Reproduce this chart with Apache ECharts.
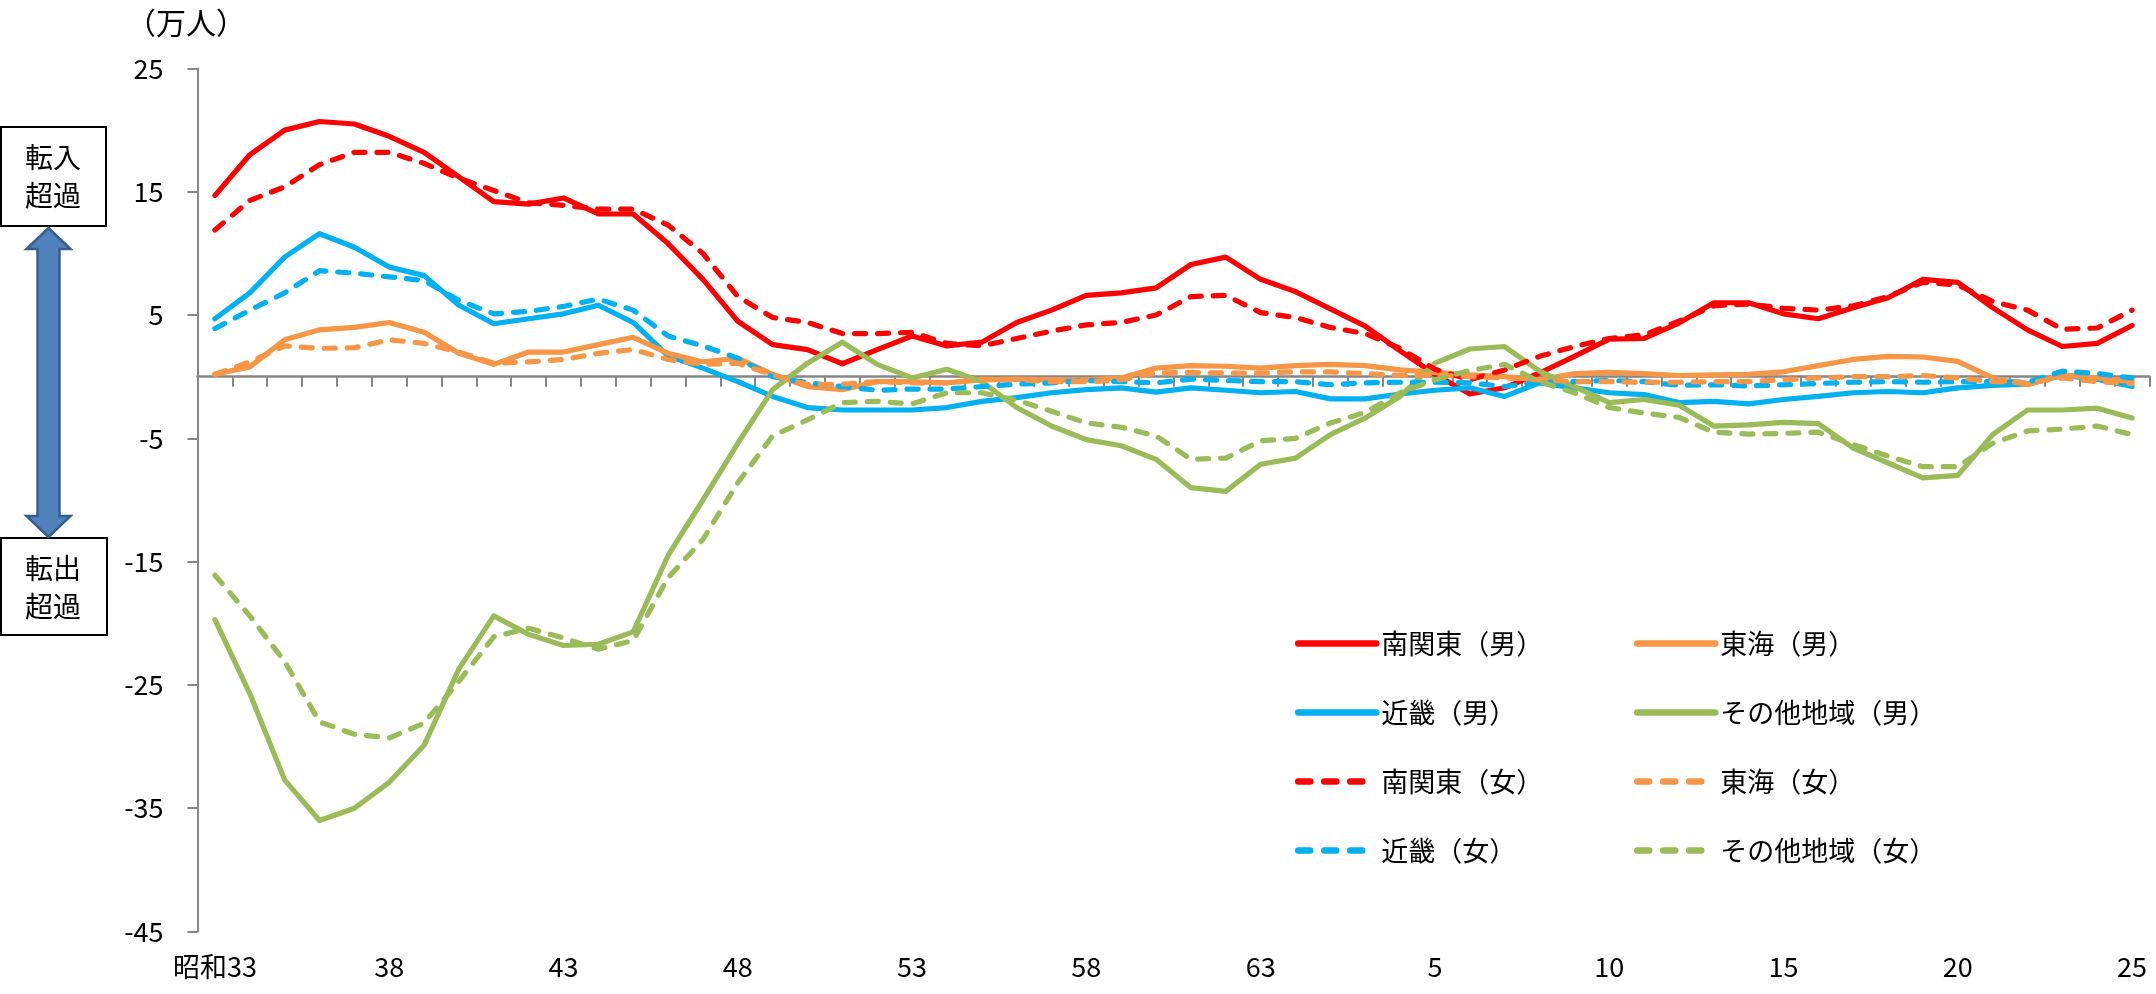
<!DOCTYPE html>
<html>
<head>
<meta charset="utf-8">
<script src="https://cdn.jsdelivr.net/npm/echarts@6/dist/echarts.min.js"></script>
<style>
html,body{margin:0;padding:0;background:#fff;}
#chart{width:2156px;height:994px;}
</style>
</head>
<body>
<div id="chart"></div>
<script>
// Categories: 昭和33 (1958) ... 昭和63, 平成元 ... 平成25 (2013)
var categories = ['昭和33','34','35','36','37','38','39','40','41','42','43','44','45','46','47','48','49','50','51','52','53','54','55','56','57','58','59','60','61','62','63','元','2','3','4','5','6','7','8','9','10','11','12','13','14','15','16','17','18','19','20','21','22','23','24','25'];

var yTicks = { min: -45, max: 25, interval: 10 };

var minamiKantoMale = [14.7,18.0,20.0,20.7,20.5,19.5,18.2,16.2,14.2,14.0,14.5,13.2,13.2,10.8,7.9,4.5,2.6,2.2,1.05,2.2,3.3,2.5,2.8,4.4,5.4,6.6,6.8,7.2,9.1,9.7,7.9,6.9,5.5,4.1,2.1,0.2,-1.4,-0.9,0.3,1.65,3.05,3.1,4.35,6.0,6.0,5.1,4.7,5.6,6.4,7.9,7.65,5.6,3.8,2.45,2.7,4.15];
var tokaiMale = [0.2,0.8,3.0,3.8,4.0,4.4,3.6,1.9,1.0,2.0,2.0,2.6,3.2,1.9,1.2,1.5,0.2,-0.8,-1.05,-0.4,-0.4,-0.5,-0.25,-0.2,-0.25,-0.25,-0.1,0.7,0.9,0.85,0.7,0.9,1.0,0.9,0.55,0.35,0.15,0.0,-0.25,0.25,0.35,0.25,0.1,0.15,0.2,0.4,0.9,1.4,1.65,1.6,1.25,-0.1,-0.65,0.15,-0.1,-0.4];
var kinkiMale = [4.7,6.8,9.7,11.6,10.5,8.9,8.2,5.8,4.3,4.7,5.1,5.8,4.4,1.7,0.7,-0.4,-1.6,-2.5,-2.7,-2.7,-2.7,-2.5,-2.0,-1.7,-1.3,-1.05,-0.9,-1.25,-0.9,-1.1,-1.3,-1.2,-1.8,-1.8,-1.4,-1.1,-0.9,-1.6,-0.5,-0.9,-1.3,-1.45,-2.1,-2.0,-2.2,-1.85,-1.6,-1.3,-1.2,-1.3,-0.9,-0.7,-0.6,0.1,-0.2,-0.8];
var otherMale = [-19.7,-25.7,-32.7,-36.0,-35.0,-32.9,-29.9,-23.7,-19.4,-20.9,-21.8,-21.7,-20.7,-14.5,-10.0,-5.4,-1.05,1.1,2.8,1.0,-0.1,0.6,-0.4,-2.5,-4.0,-5.1,-5.6,-6.7,-9.0,-9.3,-7.1,-6.6,-4.7,-3.35,-1.6,1.1,2.25,2.45,0.45,-0.8,-2.1,-1.85,-2.3,-4.0,-3.9,-3.7,-3.8,-5.8,-7.0,-8.2,-8.0,-4.7,-2.7,-2.7,-2.55,-3.35];
var minamiKantoFemale = [11.9,14.3,15.4,17.2,18.2,18.2,17.3,16.1,15.1,14.1,13.9,13.6,13.6,12.3,10.0,6.5,4.8,4.4,3.5,3.5,3.6,2.7,2.5,3.1,3.7,4.2,4.4,5.0,6.5,6.6,5.2,4.8,4.0,3.5,2.3,0.6,-0.25,0.55,1.65,2.45,3.1,3.4,4.5,5.75,5.9,5.55,5.4,5.75,6.5,7.65,7.45,6.1,5.4,3.85,3.95,5.4];
var tokaiFemale = [0.2,1.2,2.5,2.3,2.35,3.0,2.7,2.0,1.1,1.2,1.4,1.9,2.2,1.4,1.0,1.1,0.15,-0.65,-0.6,-0.4,-0.5,-0.5,-0.2,-0.25,-0.4,-0.4,-0.25,0.3,0.35,0.3,0.3,0.4,0.4,0.25,0.1,0.15,0.0,-0.1,-0.25,-0.4,-0.4,-0.45,-0.45,-0.4,-0.4,-0.25,-0.1,0.0,0.0,0.1,-0.1,-0.4,-0.5,-0.1,-0.4,-0.55];
var kinkiFemale = [3.9,5.4,6.8,8.6,8.4,8.1,7.8,6.2,5.1,5.3,5.7,6.3,5.4,3.3,2.5,1.5,0.0,-0.5,-0.8,-1.1,-1.0,-1.0,-0.8,-0.6,-0.5,-0.3,-0.4,-0.5,-0.2,-0.3,-0.4,-0.4,-0.65,-0.5,-0.45,-0.45,-0.5,-0.8,-0.45,-0.4,-0.3,-0.4,-0.7,-0.65,-0.75,-0.65,-0.55,-0.45,-0.4,-0.45,-0.4,-0.4,-0.45,0.45,0.25,-0.1];
var otherFemale = [-16.1,-19.4,-23.1,-28.0,-29.0,-29.3,-28.1,-24.7,-21.1,-20.4,-21.2,-22.1,-21.4,-16.3,-13.2,-8.6,-4.8,-3.5,-2.1,-2.0,-2.2,-1.3,-1.3,-1.9,-2.8,-3.75,-4.1,-4.8,-6.7,-6.6,-5.2,-5.0,-3.75,-2.9,-1.3,-0.25,0.5,1.0,-0.4,-1.3,-2.5,-2.95,-3.3,-4.5,-4.65,-4.6,-4.5,-5.5,-6.45,-7.3,-7.3,-5.4,-4.4,-4.25,-4.0,-4.7];

var names = ['南関東（男）','東海（男）','近畿（男）','その他地域（男）','南関東（女）','東海（女）','近畿（女）','その他地域（女）'];
var FONT = '"Noto Sans CJK JP", "Noto Sans", sans-serif';
var RED = '#FF0000', ORANGE = '#F79646', BLUE = '#00B0F0', GREEN = '#9BBB59';
var AXIS = '#868686';
var LW = 5.2, DASH = [11, 12];

function mk(name, data, color, dashed) {
  return {
    name: name, type: 'line', data: data, xAxisIndex: 0, yAxisIndex: 0,
    symbol: 'none', showSymbol: false, smooth: false,
    lineStyle: { color: color, width: LW, type: dashed ? DASH : 'solid', cap: 'round', join: 'round' },
    itemStyle: { color: color },
    emphasis: { disabled: true }
  };
}
function legItem(name, color, dashed) {
  return {
    name: name,
    itemStyle: { opacity: 0 },
    lineStyle: { color: color, width: 6.5, type: dashed ? [12, 14] : 'solid', cap: 'round', opacity: 1 }
  };
}

var chart = echarts.init(document.getElementById('chart'), null, { renderer: 'canvas' });
chart.setOption({
  animation: false,
  backgroundColor: '#fff',
  textStyle: { fontFamily: FONT },
  grid: { left: 197.5, right: 6.5, top: 68.5, bottom: 62.5, containLabel: false },
  xAxis: [
    {
      type: 'category', data: categories, boundaryGap: true, position: 'bottom',
      axisLine: { show: true, onZero: true, lineStyle: { color: AXIS, width: 2.5 } },
      axisTick: { show: true, interval: 0, length: 10, lineStyle: { color: AXIS, width: 2 } },
      axisLabel: { show: false },
      splitLine: { show: false }
    },
    {
      type: 'category', data: categories, boundaryGap: true, position: 'bottom',
      axisLine: { show: false, onZero: false },
      axisTick: { show: false },
      axisLabel: { show: true, interval: 4, margin: 22, color: '#000', fontSize: 27, fontFamily: FONT },
      splitLine: { show: false }
    }
  ],
  yAxis: {
    type: 'value', min: yTicks.min, max: yTicks.max, interval: yTicks.interval,
    axisLine: { show: true, lineStyle: { color: AXIS, width: 2 } },
    axisTick: { show: true, length: 10, lineStyle: { color: AXIS, width: 2 } },
    axisLabel: { color: '#000', fontSize: 27, margin: 34, fontFamily: FONT },
    splitLine: { show: false }
  },
  legend: [
    {
      data: [legItem(names[0], RED, false), legItem(names[2], BLUE, false), legItem(names[4], RED, true), legItem(names[6], BLUE, true)],
      orient: 'vertical', left: 1290, top: 625,
      itemWidth: 78, itemHeight: 26, itemGap: 42,
      textStyle: { fontSize: 27, color: '#000', fontFamily: FONT },
      selectedMode: false
    },
    {
      data: [legItem(names[1], ORANGE, false), legItem(names[3], GREEN, false), legItem(names[5], ORANGE, true), legItem(names[7], GREEN, true)],
      orient: 'vertical', left: 1629, top: 625,
      itemWidth: 78, itemHeight: 26, itemGap: 42,
      textStyle: { fontSize: 27, color: '#000', fontFamily: FONT },
      selectedMode: false
    }
  ],
  series: [
    mk(names[0], minamiKantoMale, RED, false),
    mk(names[2], kinkiMale, BLUE, false),
    mk(names[1], tokaiMale, ORANGE, false),
    mk(names[3], otherMale, GREEN, false),
    mk(names[4], minamiKantoFemale, RED, true),
    mk(names[6], kinkiFemale, BLUE, true),
    mk(names[5], tokaiFemale, ORANGE, true),
    mk(names[7], otherFemale, GREEN, true)
  ],
  graphic: [
    { type: 'text', left: 126, top: 8, style: { text: '（万人）', fontSize: 30, fill: '#000', fontFamily: FONT } },
    { type: 'rect', shape: { x: 1, y: 127, width: 105, height: 99 }, style: { fill: '#fff', stroke: '#000', lineWidth: 2 } },
    { type: 'text', x: 53, y: 176, style: { text: '転入\n超過', fontSize: 28, lineHeight: 38, fill: '#000', align: 'center', verticalAlign: 'middle', fontFamily: FONT } },
    { type: 'rect', shape: { x: 1, y: 538, width: 106, height: 97 }, style: { fill: '#fff', stroke: '#000', lineWidth: 2 } },
    { type: 'text', x: 53, y: 587, style: { text: '転出\n超過', fontSize: 28, lineHeight: 38, fill: '#000', align: 'center', verticalAlign: 'middle', fontFamily: FONT } },
    { type: 'polygon', shape: { points: [[48.5,228],[70.5,249],[59.5,249],[59.5,516],[70.5,516],[48.5,537],[26.5,516],[37.5,516],[37.5,249],[26.5,249]] },
      style: { fill: '#4F81BD', stroke: '#385D8A', lineWidth: 2.5 } }
  ]
});
</script>
</body>
</html>
